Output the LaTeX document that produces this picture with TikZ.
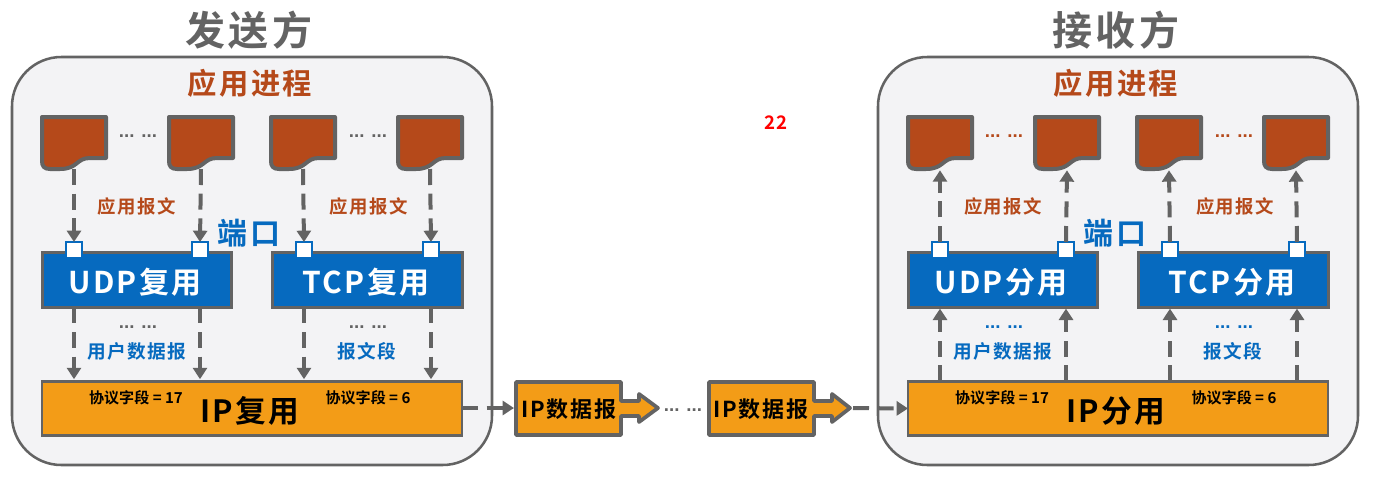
\documentclass[tikz,border=0pt]{standalone}
\usepackage{fontspec}
\usetikzlibrary{arrows.meta}
\setmainfont{Noto Sans CJK SC}[BoldFont={Noto Sans CJK SC Bold}]
\newfontfamily\widecjk{Noto Sans CJK SC}[BoldFont={Noto Sans CJK SC Bold},LetterSpace=8]
\newfontfamily\dotfont{Liberation Sans}[BoldFont={Liberation Sans Bold}]
\definecolor{gline}{HTML}{636363}
\definecolor{panelbg}{HTML}{F3F3F5}
\definecolor{brick}{HTML}{B5491A}
\definecolor{bluefill}{HTML}{066ABF}
\definecolor{orangefill}{HTML}{F39C17}
\tikzset{
  every node/.style={inner sep=0pt,outer sep=0pt},
  panelbox/.style={draw=gline,line width=1.9pt,fill=panelbg,rounded corners=37pt},
  docbox/.style={minimum width=47pt,minimum height=39pt},
  docline/.style={draw=gline,line width=3pt,fill=brick,line join=round},
  bluebox/.style={draw=gline,line width=2.2pt,fill=bluefill,minimum width=142pt,minimum height=41pt,text=white,font=\widecjk\bfseries\fontsize{22.5}{27}\selectfont},
  ipbox/.style={draw=gline,line width=2.2pt,fill=orangefill,minimum width=315pt,minimum height=41pt},
  portbox/.style={draw=bluefill,line width=2.2pt,fill=white,minimum size=12pt},
  flow/.style={draw=gline,line width=3pt,dash pattern=on 12pt off 6.5pt,-{Triangle[width=10.5pt,length=8.5pt]}},
  titletext/.style={text=gline,font=\widecjk\bfseries\fontsize{30}{36}\selectfont},
  proctext/.style={text=brick,font=\widecjk\bfseries\fontsize{22}{26}\selectfont},
  msgtext/.style={text=brick,font=\widecjk\bfseries\fontsize{13.8}{16}\selectfont},
  bluetext/.style={text=bluefill,font=\widecjk\bfseries\fontsize{14}{17}\selectfont},
  porttext/.style={text=bluefill,font=\widecjk\bfseries\fontsize{22.5}{27}\selectfont},
  fieldtext/.style={text=black,font=\bfseries\fontsize{11.3}{13}\selectfont},
  iptext/.style={text=black,font=\widecjk\bfseries\fontsize{23}{28}\selectfont},
  dgtext/.style={text=black,font=\widecjk\bfseries\fontsize{16.5}{20}\selectfont},
  dotstext/.style={font=\dotfont\bfseries\fontsize{14}{16}\selectfont},
  dgshape/.style={draw=gline,line width=2.8pt,fill=orangefill,line join=round},
}
\newcommand{\docsheet}[3]{%
  \node[docbox] (#1) at (#2,#3) {};
  \path[docline] (#2-32,#3-26) -- (#2+32,#3-26) -- (#2+32,#3+15) -- (#2+16,#3+15)
    .. controls (#2+2,#3+15) and (#2+4,#3+26) .. (#2-14,#3+26) -- (#2-24,#3+26)
    .. controls (#2-30,#3+26) and (#2-32,#3+23) .. (#2-32,#3+18) -- cycle;
}
\newcommand{\sidepanel}[5]{%
  \begin{scope}[xshift=#2*0.75pt]
    \node[panelbox,minimum width=360pt,minimum height=306pt] (#1panel) at (252,261) {};
    \node[proctext] (#1proc) at (250,83) {应用进程};
    \docsheet{#1da}{74}{143}
    \docsheet{#1db}{201}{143}
    \docsheet{#1dc}{303}{143}
    \docsheet{#1dd}{430}{143}
    \node[dotstext,text=#4] (#1dotsa) at (138,136) {... ...};
    \node[dotstext,text=#4] (#1dotsb) at (368,136) {... ...};
    \node[msgtext] (#1msga) at (137,206) {应用报文};
    \node[msgtext] (#1msgb) at (369,206) {应用报文};
    \node[porttext] (#1port) at (249,233) {端口};
    \node[bluebox] (#1udp) at (137,280) {};
    \node[bluebox] (#1tcp) at (367.5,280) {};
    \node[bluebox,draw=none,fill=none] (#1udplabel) at (135,282) {UDP#3用};
    \node[bluebox,draw=none,fill=none] (#1tcplabel) at (366,282) {TCP#3用};
    \node[portbox] (#1pa) at (74,250) {};
    \node[portbox] (#1pb) at (200,250) {};
    \node[portbox] (#1pc) at (304,250) {};
    \node[portbox] (#1pd) at (431,250) {};
    \node[dotstext,text=#5] (#1dotsc) at (138,327) {... ...};
    \node[dotstext,text=#5] (#1dotsd) at (368,327) {... ...};
    \node[bluetext] (#1uds) at (137,351) {用户数据报};
    \node[bluetext] (#1seg) at (367,351) {报文段};
    \node[ipbox] (#1ip) at (252,408.5) {};
    \node[iptext] (#1iplabel) at (250,411) {IP#3用};
    \node[fieldtext] (#1fa) at (136,398) {协议字段 = 17};
    \node[fieldtext] (#1fb) at (368,398) {协议字段 = 6};
  \end{scope}
}
\begin{document}
\begin{tikzpicture}[x=0.75pt,y=-0.75pt]
\useasboundingbox (0,0) rectangle (1386,476);
\node[titletext] (ttl) at (249,30) {发送方};
\node[titletext] (ttr) at (1116,30) {接收方};
\sidepanel{L}{0}{复}{gline}{gline}
\sidepanel{R}{866}{分}{brick}{bluefill}
\node[text=red,font=\bfseries\fontsize{14}{16}\selectfont] (num) at (776,123) {22};
% left arrows
\draw[flow] (Lda.south) -- (Lpa.north);
\draw[flow] (Ldb.south) -- (Lpb.north);
\draw[flow] (Ldc.south) -- (Lpc.north);
\draw[flow] (Ldd.south) -- (Lpd.north);
\draw[flow] (Lpa |- Ludp.south) -- ([yshift=1.5pt]Lpa |- Lip.north);
\draw[flow] (Lpb |- Ludp.south) -- ([yshift=1.5pt]Lpb |- Lip.north);
\draw[flow] (Lpc |- Ltcp.south) -- ([yshift=1.5pt]Lpc |- Lip.north);
\draw[flow] (Lpd |- Ltcp.south) -- ([yshift=1.5pt]Lpd |- Lip.north);
% right arrows
\draw[flow] (Rpa.north) -- ([yshift=-1pt]Rda.south);
\draw[flow] (Rpb.north) -- ([yshift=-1pt]Rdb.south);
\draw[flow] (Rpc.north) -- ([yshift=-1pt]Rdc.south);
\draw[flow] (Rpd.north) -- ([yshift=-1pt]Rdd.south);
\draw[flow] (Rpa |- Rip.north) -- ([yshift=-1pt]Rpa |- Rudp.south);
\draw[flow] (Rpb |- Rip.north) -- ([yshift=-1pt]Rpb |- Rudp.south);
\draw[flow] (Rpc |- Rip.north) -- ([yshift=-1pt]Rpc |- Rtcp.south);
\draw[flow] (Rpd |- Rip.north) -- ([yshift=-1pt]Rpd |- Rtcp.south);
% datagrams
\path[dgshape] (516,382) -- (621,382) -- (621,401) -- (639,401) -- (639,394) -- (658,408) -- (639,422) -- (639,416) -- (621,416) -- (621,435) -- (516,435) -- cycle;
\node[dgtext] (dga) at (569,409) {IP数据报};
\path[dgshape] (709,382) -- (814,382) -- (814,401) -- (832,401) -- (832,394) -- (850,408) -- (832,422) -- (832,416) -- (814,416) -- (814,435) -- (709,435) -- cycle;
\node[dgtext] (dgb) at (761,409) {IP数据报};
\coordinate (dgbtip) at (853,408);
\coordinate (dgain) at (514,408);
\coordinate (Ripin) at (Rip.west);
\node[dotstext,text=gline] (dotsmid) at (683,410) {... ...};
\draw[flow] (Lip.east |- dgain) -- (dgain);
\draw[flow] (dgbtip) -- (Ripin);
\end{tikzpicture}
\end{document}
